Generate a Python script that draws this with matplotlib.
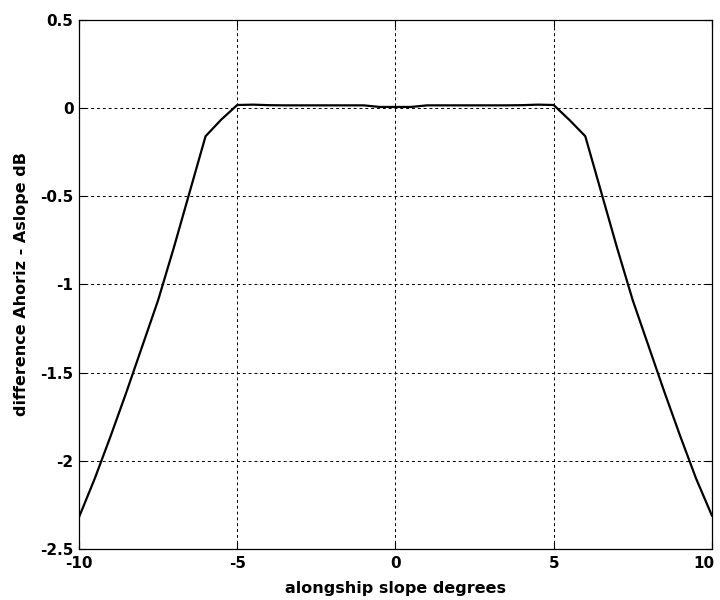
import matplotlib
matplotlib.use("Agg")
import matplotlib.pyplot as plt
from matplotlib.transforms import ScaledTranslation

# Slope angle (degrees) and level difference (dB)
slope_deg = [-10, -9.5, -9, -8.5, -8, -7.5, -7, -6.5, -6, -5.5, -5, -4.5, -4,
             -3.5, -3, -2.5, -2, -1.5, -1, -0.5, 0, 0.5, 1, 1.5, 2, 2.5, 3,
             3.5, 4, 4.5, 5, 5.5, 6, 6.5, 7, 7.5, 8, 8.5, 9, 9.5, 10]
diff_db = [-2.32, -2.10, -1.86, -1.61, -1.35, -1.09, -0.79, -0.475, -0.16,
           -0.065, 0.017, 0.019, 0.016, 0.015, 0.015, 0.015, 0.015, 0.015,
           0.015, 0.006, 0.006, 0.006, 0.015, 0.015, 0.015, 0.015, 0.015,
           0.015, 0.016, 0.019, 0.017, -0.068, -0.16, -0.475, -0.79, -1.09,
           -1.35, -1.61, -1.86, -2.10, -2.31]

x_ticks = [-10, -5, 0, 5, 10]
y_ticks = [-2.5, -2, -1.5, -1, -0.5, 0, 0.5]
y_tick_labels = ["-2.5", "-2", "-1.5", "-1", "-0.5", "0", "0.5"]

plt.rcParams["font.family"] = ["DejaVu Sans"]
plt.rcParams["font.weight"] = "bold"

fig = plt.figure(figsize=(7.2, 6.0), dpi=100)
ax = fig.add_axes([0.1097, 0.085, 0.879, 0.882])

ax.plot(slope_deg, diff_db, color="black", linewidth=1.6, zorder=3)

ax.set_xlim(-10, 10)
ax.set_ylim(-2.5, 0.5)
ax.set_xticks(x_ticks)
ax.set_xticklabels([str(t) for t in x_ticks])
ax.set_yticks(y_ticks)
ax.set_yticklabels(y_tick_labels)

ax.grid(True, color="black", linestyle=(0, (3, 3)), linewidth=0.7)
ax.set_axisbelow(True)

ax.tick_params(direction="in", length=5, width=0.8, top=True, right=True,
               labelsize=11, colors="black")
ax.tick_params(axis="x", pad=5)
ax.tick_params(axis="y", pad=4)
for s in ax.spines.values():
    s.set_linewidth(0.9)
    s.set_color("black")

# keep the rightmost x tick label inside the canvas
last = ax.get_xticklabels()[-1]
last.set_transform(last.get_transform() + ScaledTranslation(-6 / 72, 0, fig.dpi_scale_trans))

ax.set_xlabel("alongship slope degrees", fontsize=11.5, fontweight="bold", labelpad=7)
ax.set_ylabel("difference Ahoriz - Aslope dB", fontsize=11.5, fontweight="bold", labelpad=8)

fig.savefig("out.png", dpi=100, facecolor="white")
